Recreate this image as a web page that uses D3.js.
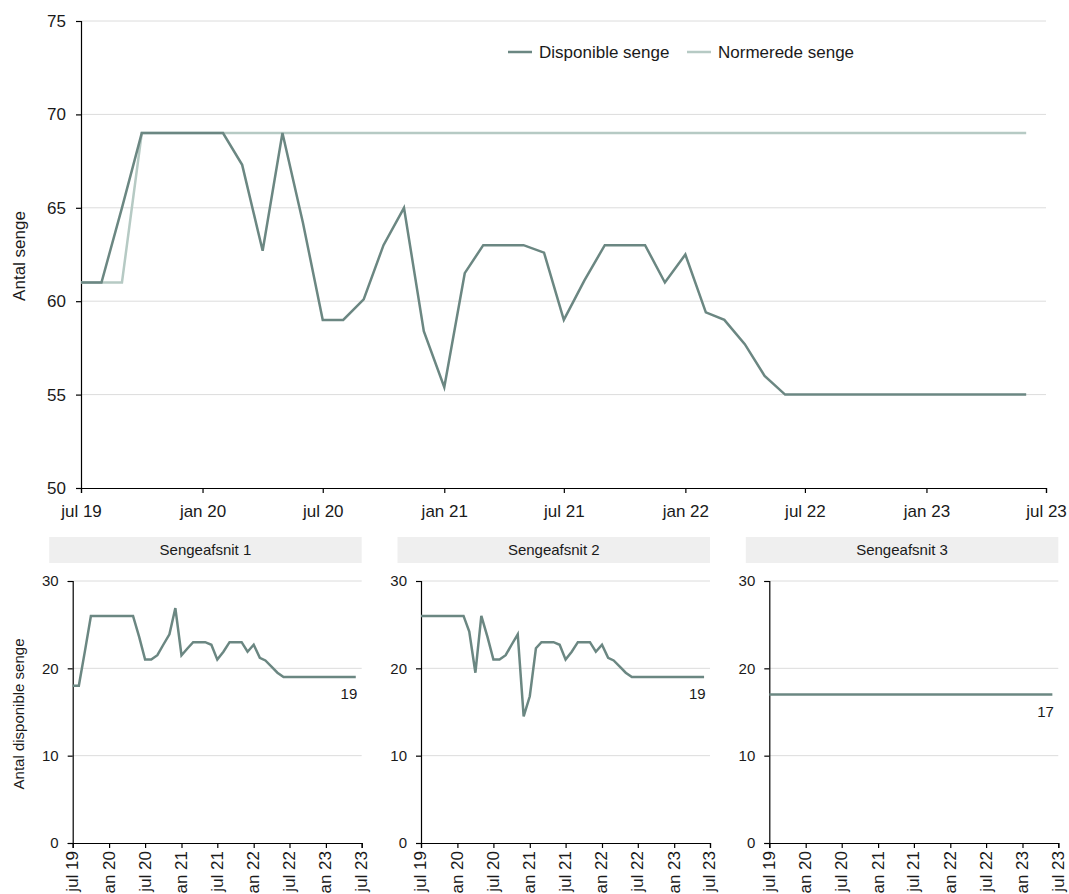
<!DOCTYPE html>
<html>
<head>
<meta charset="utf-8">
<script src="https://cdn.jsdelivr.net/npm/d3@7"></script>
<style>
body { margin:0; background:#fff; }
svg { font-family: "Liberation Sans", Arial, sans-serif; display:block; }
.grid line { stroke:#dcdcdc; stroke-width:1; }
.axis path, .axis line { stroke:#000; stroke-width:1.2; }
.axis text { fill:#1a1a1a; }
</style>
</head>
<body>
<div id="chart_place"></div>
<script>
// months jul 19 .. jun 23
var months = d3.timeMonths(new Date(2019, 6, 1), new Date(2023, 6, 1));
var monthNames = ['jan','feb','mar','apr','maj','jun','jul','aug','sep','okt','nov','dec'];

var disponible = [61, 61, 65, 69, 69, 69, 69, 69, 67.3, 62.7, 69, 64.2,
                  59, 59, 60.1, 63, 65, 58.4, 55.4, 61.5, 63, 63, 63, 62.6,
                  59, 61.1, 63, 63, 63, 61, 62.5, 59.4, 59, 57.7, 56, 55,
                  55, 55, 55, 55, 55, 55, 55, 55, 55, 55, 55, 55];
var normerede = [61, 61, 61, 69, 69, 69, 69, 69, 69, 69, 69, 69,
                 69, 69, 69, 69, 69, 69, 69, 69, 69, 69, 69, 69,
                 69, 69, 69, 69, 69, 69, 69, 69, 69, 69, 69, 69,
                 69, 69, 69, 69, 69, 69, 69, 69, 69, 69, 69, 69];

var afsnit1 = [18, 18, 22, 26, 26, 26, 26, 26, 26, 26, 26, 23.6,
               21, 21, 21.5, 22.7, 23.9, 26.9, 21.5, 22.3, 23, 23, 23, 22.7,
               21, 21.9, 23, 23, 23, 21.9, 22.7, 21.2, 20.9, 20.2, 19.5, 19,
               19, 19, 19, 19, 19, 19, 19, 19, 19, 19, 19, 19];
var afsnit2 = [26, 26, 26, 26, 26, 26, 26, 26, 24.2, 19.5, 26, 23.6,
               21, 21, 21.5, 22.7, 23.9, 14.5, 16.8, 22.3, 23, 23, 23, 22.7,
               21, 21.9, 23, 23, 23, 21.9, 22.7, 21.2, 20.9, 20.2, 19.5, 19,
               19, 19, 19, 19, 19, 19, 19, 19, 19, 19, 19, 19];
var afsnit3 = [17, 17, 17, 17, 17, 17, 17, 17, 17, 17, 17, 17,
               17, 17, 17, 17, 17, 17, 17, 17, 17, 17, 17, 17,
               17, 17, 17, 17, 17, 17, 17, 17, 17, 17, 17, 17,
               17, 17, 17, 17, 17, 17, 17, 17, 17, 17, 17, 17];
var panelNames = ['Sengeafsnit 1', 'Sengeafsnit 2', 'Sengeafsnit 3'];
var panelData = [afsnit1, afsnit2, afsnit3];

var mainTicks = [50, 55, 60, 65, 70, 75];
var panelTicks = [0, 10, 20, 30];

var darkCol = '#6b8782', lightCol = '#b6cac4';

var fmtMonth = function(d){
  return monthNames[d.getMonth()] + ' ' + String(d.getFullYear()).slice(2);
};
var xDomain = [new Date(2019, 6, 1), new Date(2023, 6, 1)];
var xTickVals = d3.timeMonth.every(6).range(new Date(2019, 6, 1), new Date(2023, 6, 2));

var svg = d3.select('#chart_place').append('svg')
    .attr('width', 1069).attr('height', 894);

// ---------- main chart ----------
var x = d3.scaleTime().domain(xDomain).range([81, 1046]);
var y = d3.scaleLinear().domain([50, 75]).range([488, 21]);

var main = svg.append('g');
main.append('g').attr('class', 'grid')
  .selectAll('line').data(mainTicks.slice(1)).enter().append('line')
    .attr('x1', x.range()[0]).attr('x2', x.range()[1])
    .attr('y1', function(d){ return y(d); }).attr('y2', function(d){ return y(d); });

main.append('g').attr('class', 'axis')
    .attr('transform', 'translate(' + x.range()[0] + ',0)')
    .call(d3.axisLeft(y).tickValues(mainTicks).tickSize(5).tickPadding(10))
    .call(function(g){ g.selectAll('text').style('font-size', '17px'); });

main.append('g').attr('class', 'axis')
    .attr('transform', 'translate(0,' + y.range()[0] + ')')
    .call(d3.axisBottom(x).tickValues(xTickVals).tickFormat(fmtMonth).tickSize(5).tickPadding(12))
    .call(function(g){ g.selectAll('text').style('font-size', '17px'); });

main.append('text')
    .attr('transform', 'translate(25,' + 256 + ') rotate(-90)')
    .attr('text-anchor', 'middle')
    .style('font-size', '17px').style('fill', '#1a1a1a')
    .text('Antal senge');

var line = d3.line()
    .x(function(d, i){ return x(months[i]); })
    .y(function(d){ return y(d); });

main.append('path').datum(normerede)
    .attr('fill', 'none').attr('stroke', lightCol).attr('stroke-width', 2.5)
    .attr('d', line);
main.append('path').datum(disponible)
    .attr('fill', 'none').attr('stroke', darkCol).attr('stroke-width', 2.5)
    .attr('stroke-linejoin', 'miter')
    .attr('d', line);

// legend
var legend = [{name: 'Disponible senge', col: darkCol, x: 508},
              {name: 'Normerede senge', col: lightCol, x: 687}];
var lg = main.selectAll('.lg').data(legend).enter().append('g')
    .attr('transform', function(d){ return 'translate(' + d.x + ',52)'; });
lg.append('line').attr('x1', 0).attr('x2', 24).attr('y1', 0).attr('y2', 0)
    .attr('stroke', function(d){ return d.col; }).attr('stroke-width', 2.5);
lg.append('text').attr('x', 31).attr('dy', '0.35em')
    .style('font-size', '17px').style('fill', '#1a1a1a')
    .text(function(d){ return d.name; });

// ---------- small multiples ----------
var py = d3.scaleLinear().domain([0, 30]).range([843, 581]);

panelNames.forEach(function(name, k){
  var left = 72.7 + k * 348.3;
  var px = d3.scaleTime().domain(xDomain).range([left, left + 289]);
  var g = svg.append('g');

  g.append('rect')
    .attr('x', left - 23.5).attr('y', 537)
    .attr('width', 289 + 23.5).attr('height', 26)
    .attr('fill', '#efefef');
  g.append('text')
    .attr('x', left - 23.5 + (289 + 23.5) / 2).attr('y', 550).attr('dy', '0.35em')
    .attr('text-anchor', 'middle')
    .style('font-size', '15px').style('fill', '#1a1a1a')
    .text(name);

  g.append('g').attr('class', 'grid')
    .selectAll('line').data(panelTicks.slice(1)).enter().append('line')
      .attr('x1', left).attr('x2', left + 289)
      .attr('y1', function(d){ return py(d); }).attr('y2', function(d){ return py(d); });

  g.append('g').attr('class', 'axis')
      .attr('transform', 'translate(' + left + ',0)')
      .call(d3.axisLeft(py).tickValues(panelTicks).tickSize(5).tickPadding(9))
      .call(function(a){ a.selectAll('text').style('font-size', '15px'); });

  g.append('g').attr('class', 'axis')
      .attr('transform', 'translate(0,' + py.range()[0] + ')')
      .call(d3.axisBottom(px).tickValues(xTickVals).tickFormat(fmtMonth).tickSize(5).tickPadding(8))
      .call(function(a){
        a.selectAll('text').style('font-size', '17px')
          .attr('text-anchor', 'end')
          .attr('transform', 'rotate(-90)')
          .attr('x', -8).attr('y', -1).attr('dy', '0.35em');
      });

  var pline = d3.line()
      .x(function(d, i){ return px(months[i]); })
      .y(function(d){ return py(d); });
  var vals = panelData[k];
  g.append('path').datum(vals)
      .attr('fill', 'none').attr('stroke', darkCol).attr('stroke-width', 2.5)
      .attr('d', pline);

  var last = vals[vals.length - 1];
  g.append('text')
      .attr('x', px(months[months.length - 1]) + 1.5)
      .attr('y', py(last) + 22)
      .attr('text-anchor', 'end')
      .style('font-size', '15px').style('fill', '#1a1a1a')
      .text(last);
});

svg.append('text')
    .attr('transform', 'translate(24,714) rotate(-90)')
    .attr('text-anchor', 'middle')
    .style('font-size', '15px').style('fill', '#1a1a1a')
    .text('Antal disponible senge');
</script>
</body>
</html>
